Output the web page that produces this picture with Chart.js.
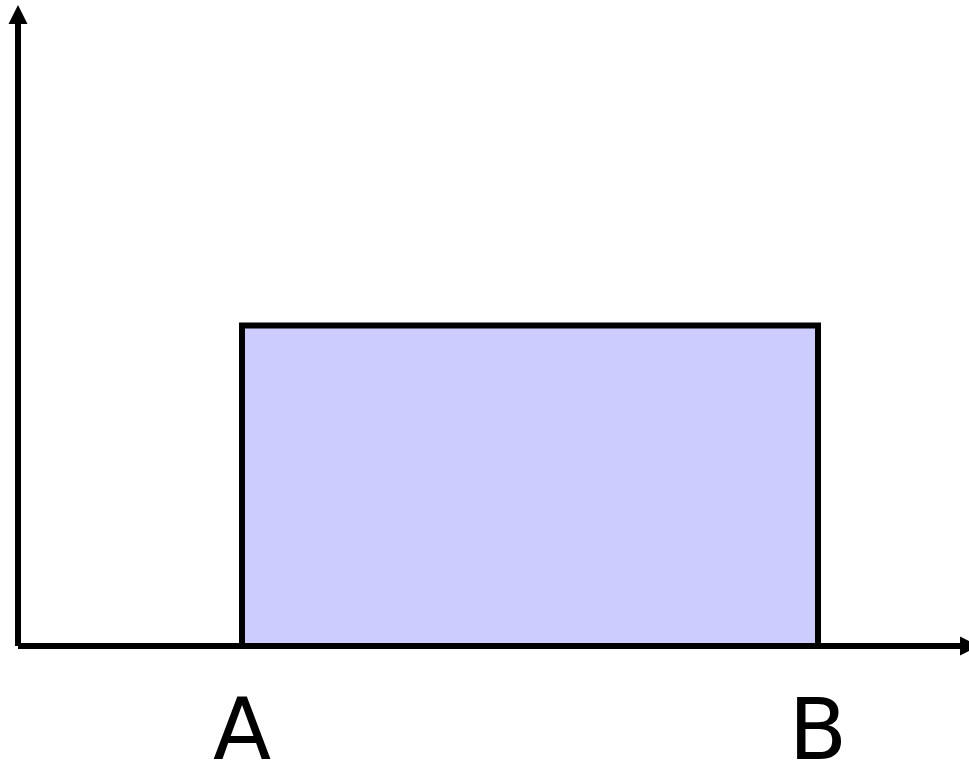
<!DOCTYPE html>
<html>
<head>
<meta charset="utf-8">
<script src="https://cdn.jsdelivr.net/npm/chart.js@4/dist/chart.umd.min.js"></script>
<style>
html,body{margin:0;padding:0;background:#fff;}
canvas{display:block;}
</style>
</head>
<body>
<canvas id="c" width="969" height="763"></canvas>
<script>
// Data
const tickLabels = ['A', 'B'];
const tickValues = [2.24, 8.0];   // positions of A and B on the x axis
const pdfHeight = [0.5];          // height of the uniform density
const xRange = [0, 9.51];
const yRange = [0, 1];

const rectPoints = [
  {x: tickValues[0], y: 0},
  {x: tickValues[0], y: pdfHeight[0]},
  {x: tickValues[1], y: pdfHeight[0]},
  {x: tickValues[1], y: 0}
];

const axesPlugin = {
  id: 'axesArrows',
  afterDatasetsDraw(chart) {
    const ctx = chart.ctx;
    const xs = chart.scales.x, ys = chart.scales.y;
    const area = chart.chartArea;
    const x0 = xs.getPixelForValue(xRange[0]);
    const y0 = ys.getPixelForValue(yRange[0]);
    const len = 19, hw = 9.5, lw = 6;
    ctx.save();
    ctx.strokeStyle = '#000';
    ctx.fillStyle = '#000';
    ctx.lineWidth = lw;
    ctx.lineCap = 'butt';
    // y axis
    const yTip = area.top;
    ctx.beginPath();
    ctx.moveTo(x0, y0);
    ctx.lineTo(x0, yTip + len - 1);
    ctx.stroke();
    ctx.beginPath();
    ctx.moveTo(x0, yTip);
    ctx.lineTo(x0 - hw, yTip + len);
    ctx.lineTo(x0 + hw, yTip + len);
    ctx.closePath();
    ctx.fill();
    // x axis
    const xTip = area.right + 10;
    ctx.beginPath();
    ctx.moveTo(x0, y0);
    ctx.lineTo(xTip - len + 1, y0);
    ctx.stroke();
    ctx.beginPath();
    ctx.moveTo(xTip, y0);
    ctx.lineTo(xTip - len, y0 - hw);
    ctx.lineTo(xTip - len, y0 + hw);
    ctx.closePath();
    ctx.fill();
    ctx.restore();
  }
};

new Chart(document.getElementById('c'), {
  type: 'line',
  data: {
    datasets: [{
      data: rectPoints,
      borderColor: '#000',
      borderWidth: 6,
      backgroundColor: '#ccccff',
      fill: 'origin',
      pointRadius: 0,
      tension: 0,
      borderJoinStyle: 'miter',
      borderCapStyle: 'butt'
    }]
  },
  options: {
    responsive: false,
    animation: false,
    devicePixelRatio: 1,
    layout: {padding: {left: 18, top: 5, right: 0, bottom: -64}},
    plugins: {legend: {display: false}, tooltip: {enabled: false}},
    scales: {
      x: {
        type: 'linear',
        min: xRange[0], max: xRange[1],
        grid: {display: false, drawTicks: false},
        border: {display: false},
        afterBuildTicks: (scale) => { scale.ticks = tickValues.map(v => ({value: v})); },
        ticks: {
          autoSkip: false,
          maxRotation: 0,
          padding: 55,
          color: '#000',
          font: {family: 'DejaVu Sans', size: 85, lineHeight: 0.835},
          callback: (v, i) => tickLabels[i]
        }
      },
      y: {
        type: 'linear',
        display: false,
        min: yRange[0], max: yRange[1]
      }
    }
  },
  plugins: [axesPlugin]
});
</script>
</body>
</html>
